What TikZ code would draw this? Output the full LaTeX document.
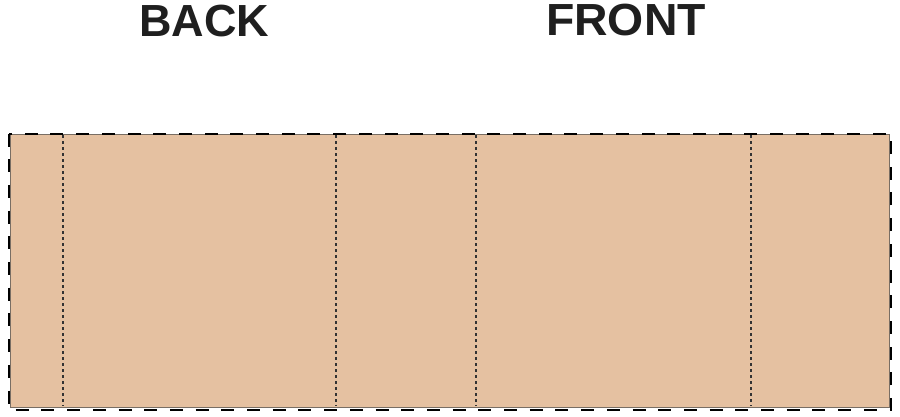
\documentclass[tikz,border=0pt]{standalone}
\usepackage{fontspec}
\setmainfont{Liberation Sans}
\definecolor{skin}{RGB}{229,193,161}
\definecolor{edge}{RGB}{120,110,100}
\tikzset{
  label/.style={font=\fontsize{45}{50}\selectfont\bfseries, text=black!88, inner sep=0pt, anchor=base},
  panelfill/.style={fill=skin, draw=edge, line width=0.8pt},
  outline/.style={draw=black, line width=2pt, dash pattern=on 13pt off 12.7pt},
  fold/.style={draw=black!80, line width=1.7pt, dash pattern=on 2.5pt off 3.5pt}
}
\begin{document}
\begin{tikzpicture}[x=1pt,y=-1pt]
  \useasboundingbox (0,0) rectangle (900,416);
  \fill[white] (0,0) rectangle (900,416);
  \coordinate (tl) at (10,134);
  \coordinate (br) at (889,407);
  \path[panelfill] (tl) rectangle (br);
  \foreach \x/\n in {63/a,336/b,476/c,751/d} {
    \coordinate (\n top) at (\x,135);
    \coordinate (\n bot) at (\x,406);
    \draw[fold] (\n top) -- (\n bot);
  }
  \coordinate (otl) at (9,133.5);
  \coordinate (obr) at (891,409.5);
  \draw[outline] (otl) rectangle (obr);
  \node[label] (back) at (204.5,36) {BACK};
  \node[label, xscale=1.03] (front) at (626,35) {FRONT};
\end{tikzpicture}
\end{document}
